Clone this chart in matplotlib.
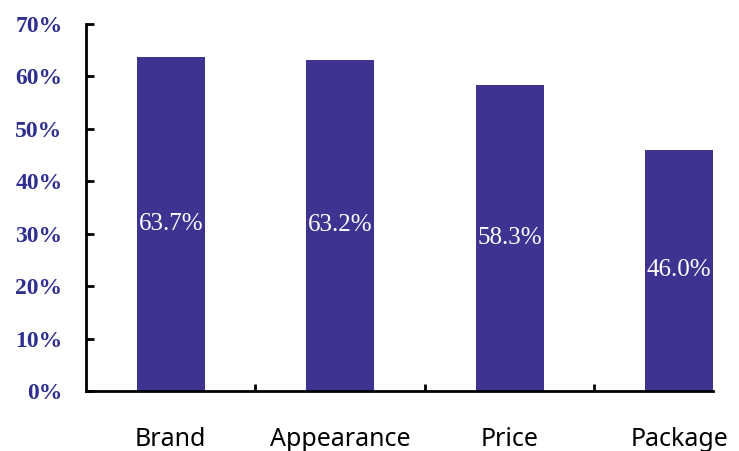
import matplotlib.pyplot as plt

categories = ["Brand", "Appearance", "Price", "Package"]
values = [63.7, 63.2, 58.3, 46.0]
yticks = [0, 10, 20, 30, 40, 50, 60, 70]

bar_color = "#3F3391"
tick_color = "#2E2F8E"

fig = plt.figure(figsize=(7.39, 4.51), dpi=100)
ax = fig.add_axes([86 / 739, 1 - 391 / 451, (713 - 86) / 739, (391 - 24) / 451])

x = list(range(len(categories)))
ax.bar(x, values, width=0.4, color=bar_color)

# value labels in the middle of each bar
for xi, v in zip(x, values):
    ax.text(xi, v / 2, "%.1f%%" % v, ha="center", va="center",
            color="white", fontsize=18, family="Liberation Serif")

ax.set_xlim(-0.5, 3.2)
ax.set_ylim(0, 70)

ax.set_yticks(yticks)
ax.set_yticklabels(["%d%%" % t for t in yticks], family="Liberation Serif",
                   fontweight="bold", fontsize=17, color=tick_color)
ax.tick_params(axis="y", direction="in", length=6, width=2, pad=17)

# separators between categories, labels on minor ticks
ax.set_xticks([0.5, 1.5, 2.5])
ax.set_xticklabels([])
ax.tick_params(axis="x", which="major", direction="in", length=5, width=2)
ax.set_xticks(x, minor=True)
ax.set_xticklabels(categories, minor=True, family="Noto Sans", fontsize=18)
ax.tick_params(axis="x", which="minor", length=0, pad=26)

for side in ["top", "right"]:
    ax.spines[side].set_visible(False)
for side in ["left", "bottom"]:
    ax.spines[side].set_linewidth(2)

plt.savefig("out.png", dpi=100)
